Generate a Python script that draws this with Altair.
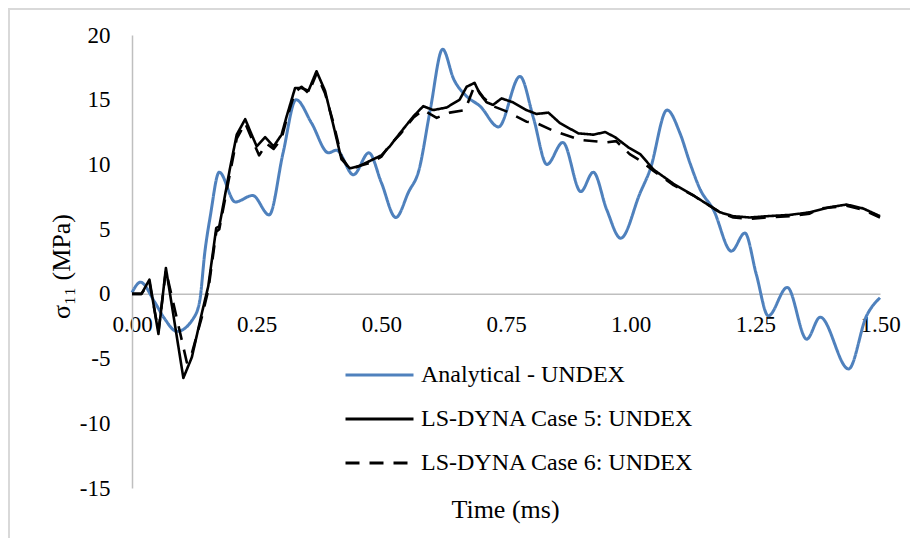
import altair as alt
import pandas as pd

series_names = ["Analytical - UNDEX", "LS-DYNA Case 5: UNDEX", "LS-DYNA Case 6: UNDEX"]
series_colors = ["#4F81BD", "#000000", "#000000"]
series_dash = [[1, 0], [1, 0], [14, 10]]

x_ticks = [0.0, 0.25, 0.5, 0.75, 1.0, 1.25, 1.5]
y_ticks = [-15, -10, -5, 0, 5, 10, 15, 20]

analytical_t = [0.0, 0.017, 0.045, 0.065, 0.09, 0.123, 0.136, 0.146, 0.157, 0.175, 0.207, 0.242, 0.275,
                0.303, 0.329, 0.36, 0.394, 0.41, 0.444, 0.475, 0.50, 0.529, 0.555, 0.575, 0.598, 0.623,
                0.645, 0.670, 0.698, 0.735, 0.778, 0.805, 0.832, 0.864, 0.900, 0.925, 0.952, 0.980,
                1.019, 1.039, 1.073, 1.099, 1.119, 1.139, 1.166, 1.202, 1.229, 1.252, 1.276, 1.314,
                1.353, 1.380, 1.437, 1.473, 1.5]
analytical_v = [0.1, 0.9, -0.6, -1.9, -2.9, -1.9, -0.5, 3.2, 6.0, 9.4, 7.1, 7.6, 6.1,
                10.9, 15.0, 13.2, 10.9, 11.1, 9.2, 10.9, 8.6, 5.9, 7.9, 9.5, 14.2, 18.9,
                16.6, 15.3, 14.5, 12.9, 16.8, 13.6, 10.0, 11.7, 7.9, 9.4, 6.5, 4.3,
                7.8, 9.6, 14.2, 12.4, 10.1, 8.1, 6.5, 3.3, 4.7, 1.5, -1.7, 0.5,
                -3.5, -1.8, -5.8, -1.7, -0.3]

case5_t = [0.0, 0.019, 0.035, 0.053, 0.068, 0.103, 0.12, 0.14, 0.153, 0.169, 0.175, 0.196, 0.21,
           0.227, 0.24, 0.25, 0.267, 0.284, 0.30, 0.31, 0.327, 0.34, 0.354, 0.37, 0.387, 0.404,
           0.42, 0.437, 0.457, 0.484, 0.50, 0.517, 0.537, 0.564, 0.584, 0.604, 0.631, 0.657,
           0.671, 0.687, 0.697, 0.711, 0.724, 0.741, 0.764, 0.791, 0.811, 0.835, 0.858, 0.895,
           0.925, 0.949, 0.969, 0.996, 1.019, 1.046, 1.086, 1.126, 1.179, 1.206, 1.239, 1.273,
           1.319, 1.359, 1.40, 1.433, 1.466, 1.5]
case5_v = [0.0, 0.0, 1.1, -3.1, 2.0, -6.5, -4.9, -1.5, 0.6, 5.1, 5.2, 9.6, 12.3,
           13.5, 12.3, 11.4, 12.1, 11.4, 12.3, 13.7, 15.9, 15.9, 15.7, 17.2, 15.7, 13.0,
           10.4, 9.7, 9.9, 10.4, 10.7, 11.4, 12.4, 13.7, 14.5, 14.2, 14.4, 15.0,
           16.0, 16.3, 15.5, 14.8, 14.6, 15.1, 14.8, 14.2, 13.9, 14.0, 13.2, 12.4,
           12.3, 12.5, 12.1, 11.3, 10.8, 9.6, 8.5, 7.6, 6.3, 6.0, 5.9, 6.0,
           6.1, 6.3, 6.7, 6.9, 6.6, 6.0]

case6_t = [0.0, 0.019, 0.035, 0.053, 0.068, 0.11, 0.12, 0.14, 0.153, 0.169, 0.175, 0.196, 0.21,
           0.227, 0.24, 0.255, 0.27, 0.284, 0.30, 0.31, 0.327, 0.34, 0.354, 0.37, 0.387, 0.404,
           0.42, 0.437, 0.457, 0.484, 0.50, 0.517, 0.537, 0.564, 0.584, 0.611, 0.637, 0.668,
           0.687, 0.704, 0.724, 0.751, 0.791, 0.811, 0.845, 0.898, 0.951, 0.971, 0.998, 1.019,
           1.046, 1.086, 1.126, 1.179, 1.206, 1.239, 1.273, 1.319, 1.359, 1.38, 1.433, 1.466, 1.5]
case6_v = [0.0, 0.0, 0.9, -2.9, 1.8, -5.3, -4.6, -1.8, 0.3, 4.8, 5.0, 9.2, 12.0,
           13.2, 12.0, 10.7, 11.6, 11.2, 12.0, 13.5, 15.6, 16.0, 15.5, 17.0, 15.5, 13.2,
           10.6, 9.6, 9.9, 10.2, 10.6, 11.5, 12.3, 13.6, 14.2, 13.6, 14.0, 14.2,
           16.1, 15.2, 14.5, 14.1, 13.3, 13.2, 12.6, 11.9, 11.7, 11.8, 10.8, 10.3,
           9.5, 8.4, 7.6, 6.3, 5.9, 5.8, 5.9, 6.0, 6.2, 6.6, 6.8, 6.5, 5.9]

rows = []
for name, ts, vs in zip(series_names, [analytical_t, case5_t, case6_t],
                        [analytical_v, case5_v, case6_v]):
    for t, v in zip(ts, vs):
        rows.append({"series": name, "t": t, "v": v})
df = pd.DataFrame(rows)

W, H = 748, 453
X_MIN, X_MAX = 0.0, 1.5
Y_MIN, Y_MAX = -15, 20
x_axis_offset = -H * (0 - Y_MIN) / (Y_MAX - Y_MIN)
FONT = "Liberation Serif"

legend = alt.Legend(
    title=None, orient="none", legendX=212, legendY=318,
    symbolType="stroke", symbolSize=4624, symbolStrokeWidth=3,
    labelFont=FONT, labelFontSize=24, labelColor="#000000", labelLimit=500,
    labelOffset=6, clipHeight=44, rowPadding=0,
)

x_enc = alt.X("t:Q", scale=alt.Scale(domain=[X_MIN, X_MAX], nice=False, zero=False),
              axis=alt.Axis(values=x_ticks, format=".2f", labelFont=FONT, labelFontSize=23,
                            labelColor="#000000", labelPadding=37.5, labelBaseline="alphabetic",
                            labelFlush=False, labelOverlap=False,
                            ticks=False, tickSize=0, grid=False,
                            domainColor="#BFBFBF", domainWidth=1.5, offset=x_axis_offset,
                            title="Time (ms)", titleFont=FONT, titleFontSize=26,
                            titleFontWeight="normal", titleColor="#000000",
                            titleX=373, titleY=223.5, titleBaseline="alphabetic"))
y_enc = alt.Y("v:Q", scale=alt.Scale(domain=[Y_MIN, Y_MAX], nice=False, zero=False),
              axis=alt.Axis(values=y_ticks, labelExpr="datum.value + ''",
                            labelFont=FONT, labelFontSize=23,
                            labelColor="#000000", labelPadding=22, labelFlush=False,
                            labelOverlap=False, ticks=False, tickSize=0, grid=False,
                            domainColor="#BFBFBF", domainWidth=1.5,
                            title="σ₁₁ (MPa)", titleFont=FONT, titleFontSize=26,
                            titleFontWeight="normal", titleColor="#000000",
                            titleX=-71, titleY=231, titleAngle=270, titleAlign="center",
                            titleBaseline="middle"))
color_enc = alt.Color("series:N", scale=alt.Scale(domain=series_names, range=series_colors),
                      legend=legend)
dash_enc = alt.StrokeDash("series:N", scale=alt.Scale(domain=series_names, range=series_dash),
                          legend=legend)

base = alt.Chart(df)
blue = base.transform_filter(alt.datum.series == series_names[0]).mark_line(
    interpolate="monotone", strokeWidth=3, strokeJoin="round"
).encode(x=x_enc, y=y_enc, color=color_enc, strokeDash=dash_enc)
black = base.transform_filter(alt.datum.series != series_names[0]).mark_line(
    strokeWidth=2.6, strokeJoin="round"
).encode(x=x_enc, y=y_enc, color=color_enc, strokeDash=dash_enc)

frame = alt.Data(values=[{}])
frame_left = alt.Chart(frame).mark_rule(color="#D9D9D9", strokeWidth=2).encode(
    x=alt.value(-123), y=alt.value(-27), y2=alt.value(H + 60))
frame_top = alt.Chart(frame).mark_rule(color="#D9D9D9", strokeWidth=2).encode(
    y=alt.value(-26), x=alt.value(-124), x2=alt.value(W + 40))

chart = alt.layer(frame_left, frame_top, blue, black).properties(
    width=W, height=H,
    padding={"left": 124, "top": 27, "right": 30, "bottom": 50},
    autosize=alt.AutoSizeParams(type="none"),
    background="#FFFFFF",
).configure_view(stroke=None)

chart.save("out.html", embed_options={"renderer": "svg", "actions": False})
